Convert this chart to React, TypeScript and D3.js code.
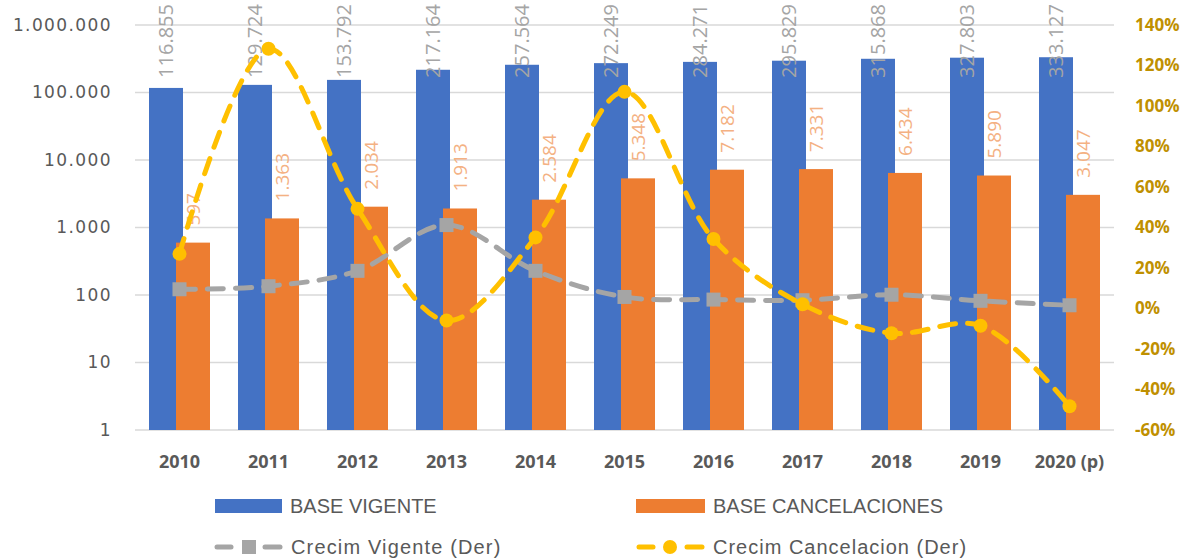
import React, { useEffect } from 'react';
import * as d3 from 'd3';

const years = ['2010', '2011', '2012', '2013', '2014', '2015', '2016', '2017', '2018', '2019', '2020 (p)'];
const baseVigente = [116855, 129724, 153792, 217164, 257564, 272249, 284271, 295829, 315868, 327803, 333127];
const baseCancelaciones = [597, 1363, 2034, 1913, 2584, 5348, 7182, 7331, 6434, 5890, 3047];
// growth rates (right axis)
const crecimVigente = [0.095, 0.11, 0.186, 0.412, 0.186, 0.057, 0.044, 0.041, 0.068, 0.038, 0.016];
const crecimCancelacion = [0.27, 1.283, 0.492, -0.059, 0.351, 1.07, 0.343, 0.021, -0.122, -0.085, -0.483];
const leftTicks = [1, 10, 100, 1000, 10000, 100000, 1000000];
const rightTicks = [-0.6, -0.4, -0.2, 0, 0.2, 0.4, 0.6, 0.8, 1.0, 1.2, 1.4];

const W = 1183;
const H = 558;
const plot = { left: 135, right: 1114, top: 25, bottom: 430 };

const BLUE = '#4472c4';
const ORANGE = '#ed7d31';
const GRAY = '#a5a5a5';
const YELLOW = '#ffc000';
const GOLD = '#bf9000';
const TEXT = '#595959';

const es = d3.formatLocale({ decimal: ',', thousands: '.', grouping: [3], currency: ['', ''] });
const fmt = es.format(',d');

const App: React.FC = () => {
  useEffect(() => {
    document.body.style.margin = '0';
  }, []);

  const x = d3.scaleBand<string>().domain(years).range([plot.left, plot.right]);
  const bw = x.bandwidth();
  const yL = d3.scaleLog().domain([1, 1e6]).range([plot.bottom, plot.top]);
  const yR = d3.scaleLinear().domain([-0.6, 1.4]).range([plot.bottom, plot.top]);

  const barW = bw * 0.382;
  const blueX = (i: number) => x(years[i])! + bw / 2 - 30.5;
  const orangeX = (i: number) => x(years[i])! + bw / 2 - 3.5;
  const cx = (i: number) => x(years[i])! + bw / 2;

  const line = d3
    .line<number>()
    .x((_, i) => cx(i))
    .y((d) => yR(d))
    .curve(d3.curveCatmullRom.alpha(0.5));

  const gap = 17;

  const barLabel = (v: number, bx: number, color: string, size: number, key: string) => {
    const top = yL(v);
    const s = fmt(v);
    const len = s.length * size * 0.55;
    let y = top - gap;
    let anchor = 'start';
    if (y - len < 4) {
      y = 4;
      anchor = 'end';
    }
    return (
      <text
        key={key}
        transform={`translate(${bx + barW / 2},${y}) rotate(-90)`}
        dy="0.35em"
        textAnchor={anchor}
        fontFamily="'Open Sans', sans-serif"
        fontSize={size}
        fill={color}
      >
        {s}
      </text>
    );
  };

  return (
    <div style={{ position: 'absolute', left: 0, top: 0 }}>
      <svg width={W} height={H} viewBox={`0 0 ${W} ${H}`} style={{ display: 'block', background: '#fff' }}>
        {/* gridlines */}
        {leftTicks.map((t) => (
          <line key={t} x1={plot.left} x2={plot.right} y1={yL(t)} y2={yL(t)} stroke="#d9d9d9" strokeWidth={1.5} />
        ))}
        {/* left axis labels */}
        {leftTicks.map((t) => (
          <text
            key={'l' + t}
            x={112}
            y={yL(t)}
            dy="0.35em"
            textAnchor="end"
            fontFamily="'DejaVu Sans', sans-serif"
            fontSize={17}
            letterSpacing={1.4}
            fill={TEXT}
          >
            {fmt(t)}
          </text>
        ))}
        {/* right axis labels */}
        {rightTicks.map((t) => (
          <text
            key={'r' + t}
            x={1135}
            y={yR(t)}
            dy="0.35em"
            fontFamily="'Open Sans', sans-serif"
            fontWeight={700}
            fontSize={17}
            fill={GOLD}
          >
            {Math.round(t * 100) + '%'}
          </text>
        ))}
        {/* bars */}
        {baseVigente.map((v, i) => (
          <rect key={'b' + i} x={blueX(i)} y={yL(v)} width={barW} height={plot.bottom - yL(v)} fill={BLUE} />
        ))}
        {baseCancelaciones.map((v, i) => (
          <rect key={'o' + i} x={orangeX(i)} y={yL(v)} width={barW} height={plot.bottom - yL(v)} fill={ORANGE} />
        ))}
        {/* bar labels */}
        {baseVigente.map((v, i) => barLabel(v, blueX(i), GRAY, 20, 'bl' + i))}
        {baseCancelaciones.map((v, i) => barLabel(v, orangeX(i), '#f4b183', 19, 'ol' + i))}
        {/* lines */}
        <path
          d={line(crecimVigente) || ''}
          fill="none"
          stroke={GRAY}
          strokeWidth={5}
          strokeDasharray="16 12"
          strokeLinecap="round"
        />
        {crecimVigente.map((v, i) => (
          <rect key={'sq' + i} x={cx(i) - 7} y={yR(v) - 7} width={14} height={14} fill={GRAY} />
        ))}
        <path
          d={line(crecimCancelacion) || ''}
          fill="none"
          stroke={YELLOW}
          strokeWidth={5}
          strokeDasharray="16 12"
          strokeLinecap="round"
        />
        {crecimCancelacion.map((v, i) => (
          <circle key={'c' + i} cx={cx(i)} cy={yR(v)} r={7} fill={YELLOW} />
        ))}
        {/* x axis labels */}
        {years.map((yr) => (
          <text
            key={'x' + yr}
            x={x(yr)! + bw / 2}
            y={462}
            dy="0.35em"
            textAnchor="middle"
            fontFamily="'Open Sans', sans-serif"
            fontWeight={700}
            fontSize={18}
            fill={TEXT}
          >
            {yr}
          </text>
        ))}
        {/* legend */}
        <g fontFamily="'Liberation Sans', Arial, sans-serif" fontSize={20} fill={TEXT}>
          <rect x={215} y={499} width={67} height={14} fill={BLUE} />
          <text x={290} y={506} dy="0.35em">BASE VIGENTE</text>
          <rect x={636} y={499} width={69} height={14} fill={ORANGE} />
          <text x={713} y={506} dy="0.35em">BASE CANCELACIONES</text>

          <line x1={217} x2={231} y1={547} y2={547} stroke={GRAY} strokeWidth={5} strokeLinecap="round" />
          <line x1={265} x2={280} y1={547} y2={547} stroke={GRAY} strokeWidth={5} strokeLinecap="round" />
          <rect x={242} y={540} width={14} height={14} fill={GRAY} />
          <text x={291} y={547} dy="0.35em" letterSpacing={1.15}>Crecim Vigente (Der)</text>

          <line x1={639} x2={653} y1={547} y2={547} stroke={YELLOW} strokeWidth={5} strokeLinecap="round" />
          <line x1={687} x2={702} y1={547} y2={547} stroke={YELLOW} strokeWidth={5} strokeLinecap="round" />
          <circle cx={670} cy={547} r={7} fill={YELLOW} />
          <text x={713} y={547} dy="0.35em" letterSpacing={1.0}>Crecim Cancelacion (Der)</text>
        </g>
      </svg>
    </div>
  );
};

export default App;
